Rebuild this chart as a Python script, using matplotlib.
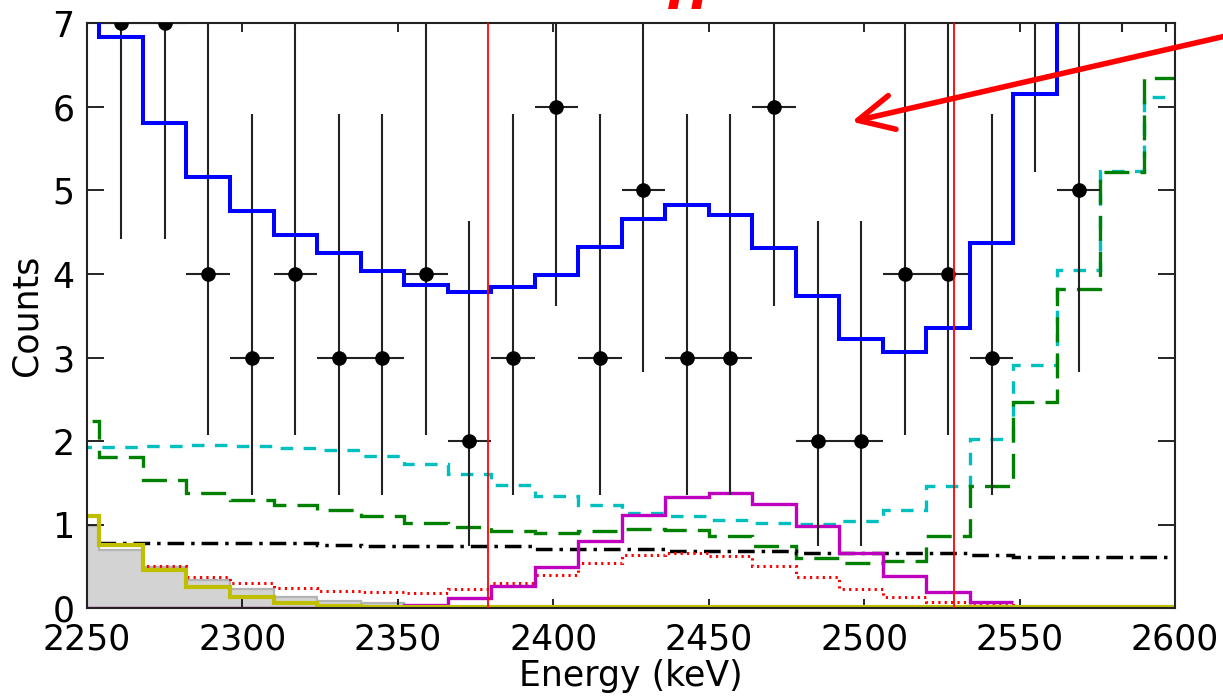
import numpy as np
import matplotlib
matplotlib.use("Agg")
import matplotlib.pyplot as plt

plt.rcParams['font.family'] = ['DejaVu Sans']
plt.rcParams['lines.scale_dashes'] = False

# ---- data ----
bin_edges = [2240, 2254, 2268, 2282, 2296, 2310, 2324, 2338, 2352, 2366, 2380,
             2394, 2408, 2422, 2436, 2450, 2464, 2478, 2492, 2506, 2520, 2534,
             2548, 2562, 2576, 2590, 2604]

total_model = [7.9, 6.84, 5.81, 5.16, 4.75, 4.47, 4.25, 4.04, 3.87, 3.79, 3.84,
               3.99, 4.32, 4.66, 4.83, 4.71, 4.31, 3.74, 3.22, 3.07, 3.35, 4.37,
               6.16, 8.2, 9.7, 10.5]
cyan_bkg = [1.93, 1.93, 1.94, 1.95, 1.94, 1.92, 1.89, 1.82, 1.73, 1.61, 1.48,
            1.34, 1.24, 1.14, 1.10, 1.06, 1.02, 1.01, 1.04, 1.18, 1.46, 2.02,
            2.91, 4.05, 5.23, 6.12]
green_bkg = [2.24, 1.81, 1.53, 1.38, 1.30, 1.24, 1.18, 1.11, 1.02, 0.97, 0.925,
             0.905, 0.92, 0.95, 0.94, 0.865, 0.74, 0.60, 0.54, 0.57, 0.86, 1.46,
             2.47, 3.82, 5.22, 6.34]
red_dotted = [1.11, 0.77, 0.51, 0.37, 0.30, 0.24, 0.21, 0.19, 0.18, 0.23, 0.30,
              0.40, 0.54, 0.64, 0.66, 0.62, 0.51, 0.37, 0.23, 0.13, 0.07, 0.04,
              0.02, 0.02, 0.02, 0.02]
magenta_signal = [0.005, 0.005, 0.005, 0.005, 0.005, 0.005, 0.005, 0.02, 0.04,
                  0.12, 0.27, 0.50, 0.81, 1.12, 1.33, 1.38, 1.25, 0.98, 0.665,
                  0.39, 0.20, 0.07]
yellow_bkg = [1.10, 0.76, 0.46, 0.25, 0.13, 0.06, 0.03, 0.02, 0.02, 0.02, 0.02,
              0.02, 0.02, 0.02, 0.02, 0.02, 0.02, 0.02, 0.02, 0.02, 0.02, 0.02,
              0.02, 0.02, 0.02, 0.02]
gray_bkg = [0.99, 0.70, 0.50, 0.34, 0.23, 0.14, 0.09, 0.06, 0.03, 0.02, 0.01,
            0.01, 0.01, 0.01, 0.01, 0.01, 0.01, 0.01, 0.01, 0.01, 0.01, 0.01,
            0.01, 0.01, 0.01, 0.01]
dashdot_bkg = [0.785, 0.785, 0.785, 0.785, 0.785, 0.76, 0.74, 0.74, 0.74, 0.74,
               0.705, 0.705, 0.705, 0.685, 0.685, 0.685, 0.665, 0.665, 0.665,
               0.665, 0.64, 0.61, 0.61, 0.61, 0.61]   # bins from 2254

data_energy = [2261, 2275, 2289, 2303, 2317, 2331, 2345, 2359, 2373, 2387, 2401,
               2415, 2429, 2443, 2457, 2471, 2485, 2499, 2513, 2527, 2541, 2555,
               2569, 2583, 2597]
data_counts = [7, 7, 4, 3, 4, 3, 3, 4, 2, 3, 6, 3, 5, 3, 3, 6, 2, 2, 4, 4, 3, 8,
               5, 10, 10]
err_low_end = [4.42, 4.42, 2.07, 1.36, 2.07, 1.36, 1.36, 2.07, 0.74, 1.36, 3.62,
               1.36, 2.83, 1.36, 1.36, 3.62, 0.74, 0.74, 2.07, 2.07, 1.36, 5.22,
               2.83, 6.89, 6.89]
err_high_end = [10.77, 10.77, 7.16, 5.91, 7.16, 5.91, 5.91, 7.16, 4.63, 5.91,
                9.58, 5.91, 8.38, 5.91, 5.91, 9.58, 4.63, 4.63, 7.16, 7.16, 5.91,
                11.95, 8.38, 13.3, 13.3]
bin_half_width = 7

roi_lines = [2379, 2529]
x_ticks = [2250, 2300, 2350, 2400, 2450, 2500, 2550, 2600]
y_ticks = [0, 1, 2, 3, 4, 5, 6, 7]

# ---- figure ----
W, H = 1223, 698
fig = plt.figure(figsize=(W / 100, H / 100), dpi=100)
ax = fig.add_axes([87 / W, 1 - 608.3 / H, (1175 - 87) / W, (608.3 - 23.3) / H])

edges = np.array(bin_edges, dtype=float)

# gray filled component
ax.stairs(gray_bkg, edges, fill=True, color='#d3d3d3', zorder=1)
ax.stairs(gray_bkg, edges, baseline=None, color='#b4b4b4', lw=1.6, zorder=1.1)

# components
ax.stairs(cyan_bkg, edges, baseline=None, color='c', lw=2.4,
          linestyle=(0, (9, 7.5)), zorder=2)
ax.stairs(green_bkg, edges, baseline=None, color='g', lw=2.4,
          linestyle=(0, (18, 8)), zorder=2)
ax.stairs(dashdot_bkg, edges[1:], baseline=None, color='k', lw=2.5,
          linestyle=(0, (12, 5, 2.5, 5)), zorder=2)
ax.stairs(red_dotted, edges, baseline=None, color='r', lw=2.2,
          linestyle=(0, (1.6, 3.0)), zorder=2)
ax.stairs(magenta_signal, edges[:len(magenta_signal) + 1], baseline=None,
          color='m', lw=2.4, zorder=2.2)
ax.stairs(yellow_bkg, edges, baseline=None, color='y', lw=3.0, zorder=2.3)

# data
cnt = np.array(data_counts, dtype=float)
yerr = np.vstack([cnt - np.array(err_low_end), np.array(err_high_end) - cnt])
ax.errorbar(data_energy, cnt, yerr=yerr, xerr=bin_half_width, fmt='o',
            color='k', ecolor='#222222', elinewidth=1.5, markersize=9.5,
            capsize=0, zorder=3)

# total model
ax.stairs(total_model, edges, baseline=None, color='b', lw=2.9, zorder=4)

# ROI lines
for xv in roi_lines:
    ax.axvline(xv, color='r', lw=1.3, zorder=5)

ax.set_xlim(2250, 2600)
ax.set_ylim(0, 7)
ax.set_xticks(x_ticks)
ax.set_yticks(y_ticks)
ax.tick_params(axis='x', direction='in', length=6.5, width=1.2, labelsize=25,
               pad=10, top=True, bottom=True)
ax.tick_params(axis='y', direction='in', length=12, width=1.2, labelsize=25,
               pad=9, left=True, right=True)
for sp in ax.spines.values():
    sp.set_linewidth(1.5)
    sp.set_color('#222222')

ax.set_xlabel('Energy (keV)', fontsize=25, labelpad=2)
ax.set_ylabel('Counts', fontsize=25, labelpad=6)

# red annotation arrow and clipped red text at the top
ax.annotate('', xy=(851.7, H - 121.7), xycoords='figure pixels',
            xytext=(1265, H - 27), textcoords='figure pixels',
            arrowprops=dict(arrowstyle='->, head_length=0.55, head_width=0.27',
                            color='r', lw=4.0, mutation_scale=46,
                            shrinkA=0, shrinkB=0),
            annotation_clip=False, zorder=10)
fig.text(688 / W, 1 - 9 / H, 'H', color='r', fontsize=36, fontweight='bold',
         fontstyle='italic', ha='center', va='baseline')

fig.savefig('out.png', dpi=100)
